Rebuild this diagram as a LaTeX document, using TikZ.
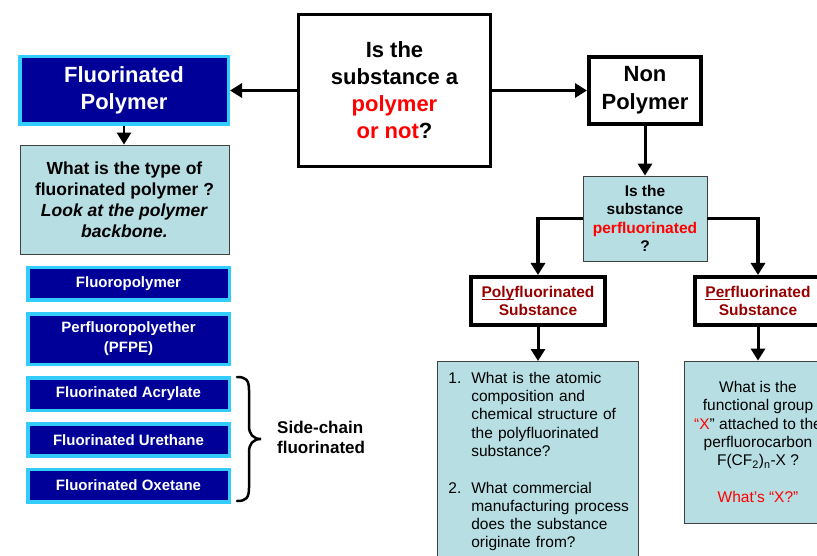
\documentclass[tikz,border=0pt]{standalone}
\usepackage{fontspec}
\setmainfont{Liberation Sans}
\usetikzlibrary{positioning,arrows.meta}

\definecolor{navybox}{RGB}{0,0,153}
\definecolor{cyanrim}{RGB}{51,204,255}
\definecolor{paleblue}{RGB}{183,222,226}
\definecolor{darkred}{RGB}{150,0,0}
\newcommand{\lowline}[1]{\underline{\smash{#1}}}

\begin{document}
\begin{tikzpicture}[x=1pt,y=-1pt,
    qbox/.style={rectangle,draw=black,fill=white,align=center,inner sep=0pt,font=\bfseries},
    darkbox/.style={rectangle,draw=cyanrim,line width=3.5pt,fill=navybox,text=white,align=center,inner sep=0pt,
        minimum width=201.5pt,font=\fontsize{15}{20}\selectfont\bfseries},
    palebox/.style={rectangle,draw=black!75,line width=0.8pt,fill=paleblue,align=center,inner sep=0pt},
    arr/.style={-{Triangle[length=12pt,width=14pt]},line width=3pt}]
    \useasboundingbox (0,0) rectangle (817,556);
    \clip (0,0) rectangle (817,556);

    \node[qbox,line width=3pt,minimum width=192pt,minimum height=152pt,font=\fontsize{22}{27}\selectfont\bfseries] (POLQ) at (394.5,90.5)
        {Is the\\substance a\\\textcolor{red}{polymer}\\\textcolor{red}{or not}?};
    \node[darkbox,minimum width=208.5pt,minimum height=67.5pt,font=\fontsize{22}{27}\selectfont\bfseries] (FP) at (124,90.5)
        {Fluorinated\\Polymer};
    \node[qbox,line width=4pt,minimum width=112pt,minimum height=67pt,font=\fontsize{22}{28}\selectfont\bfseries] (NP) at (645,90.5)
        {Non\\Polymer};

    % left column
    \node[palebox,minimum width=209pt,minimum height=109pt,font=\fontsize{17.5}{21}\selectfont\bfseries] (TYPE) at (124.5,199.5)
        {What is the type of\\fluorinated polymer ?\\\textit{Look at the polymer}\\\textit{backbone.}};
    \node[darkbox,minimum height=32.5pt] (FPOL) at (128.5,284) {Fluoropolymer};
    \node[darkbox,minimum height=50.5pt,below=10pt of FPOL] (PFPE) {Perfluoropolyether\\(PFPE)};
    \node[darkbox,minimum height=32.5pt,below=10pt of PFPE] (ACR) {Fluorinated Acrylate};
    \node[darkbox,minimum height=32pt,below=10pt of ACR] (URE) {Fluorinated Urethane};
    \node[darkbox,minimum height=32.5pt,below=10pt of URE] (OXE) {Fluorinated Oxetane};
    \node[anchor=west,align=left,inner sep=0pt,font=\fontsize{17}{20}\selectfont\bfseries] (SCF) at (277,437)
        {Side-chain\\fluorinated};
    % brace
    \draw[line width=2.5pt,line cap=round] (237,377) .. controls (246,377) and (249,380) .. (249,390) -- (249,426)
        .. controls (249,434) and (253,439) .. (261,439) .. controls (253,439) and (249,444) .. (249,452)
        -- (249,488) .. controls (249,498) and (246,501) .. (237,501);

    % right column
    \node[palebox,minimum width=124pt,minimum height=85pt,font=\fontsize{15.5}{18.5}\selectfont\bfseries] (PERFQ) at (645,218.5)
        {Is the\\substance\\\textcolor{red}{perfluorinated}\\?};
    \node[qbox,line width=4pt,minimum width=134pt,minimum height=48pt,font=\fontsize{15.5}{18}\selectfont\bfseries,text=darkred] (POLYS) at (538,301)
        {\lowline{Poly}fluorinated\\Substance};
    \node[qbox,line width=4pt,minimum width=126pt,minimum height=48pt,font=\fontsize{15.5}{18}\selectfont\bfseries,text=darkred] (PERS) at (758,301)
        {\lowline{Per}fluorinated\\Substance};
    \node[palebox,anchor=north west,align=left,text width=179pt,inner xsep=11pt,inner ysep=9pt,font=\fontsize{15.5}{18.3}\selectfont] (POLYQ) at (437,361)
        {\begin{tabular}{@{}l@{\hspace{10pt}}l@{}}
        1. & What is the atomic\\
           & composition and\\
           & chemical structure of\\
           & the polyfluorinated\\
           & substance?\\
           & \\
        2. & What commercial\\
           & manufacturing process\\
           & does the substance\\
           & originate from?\\
           & \\
        \end{tabular}};
    \node[palebox,minimum width=148pt,minimum height=162pt,font=\fontsize{15.5}{18.3}\selectfont] (PERQ) at (758,442)
        {What is the\\functional group\\\textcolor{red}{“X}” attached to the\\perfluorocarbon\\F(CF\textsubscript{2})\textsubscript{n}-X ?\\[18.3pt]\textcolor{red}{What’s “X?”}};

    \foreach \u / \v in {POLQ/FP,POLQ/NP,NP/PERFQ,PERS/PERQ}
        \draw[arr] (\u) -- (\v);
    \draw[arr,line width=2.5pt] (FP.south) -- (FP.south |- TYPE.north);
    \draw[arr,line width=3.5pt] (PERFQ.west) -| (POLYS.north);
    \draw[arr,line width=3.5pt] (PERFQ.east) -| (PERS.north);
    \draw[arr] (POLYS.south) -- (POLYS.south |- POLYQ.north);
\end{tikzpicture}
\end{document}
